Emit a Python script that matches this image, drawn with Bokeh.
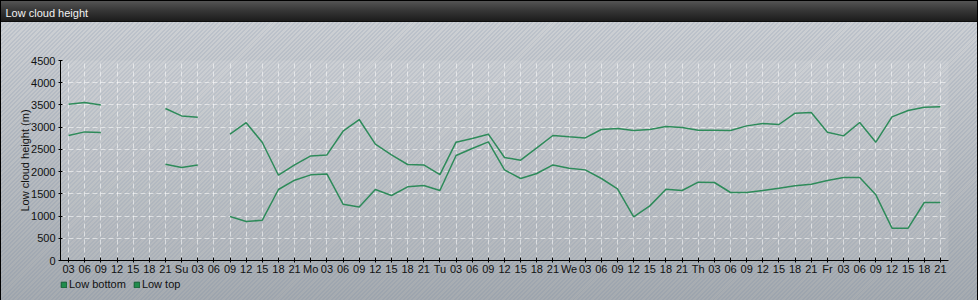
from bokeh.plotting import figure
from bokeh.layouts import column
from bokeh.models import Range1d, FixedTicker, Legend, LegendItem, Label
from bokeh.embed import file_html
from bokeh.resources import INLINE

nan = float("nan")

tick_labels = ["03", "06", "09", "12", "15", "18", "21",
               "Su", "03", "06", "09", "12", "15", "18", "21",
               "Mo", "03", "06", "09", "12", "15", "18", "21",
               "Tu", "03", "06", "09", "12", "15", "18", "21",
               "We", "03", "06", "09", "12", "15", "18", "21",
               "Th", "03", "06", "09", "12", "15", "18", "21",
               "Fr", "03", "06", "09", "12", "15", "18", "21"]

low_top = [3517, 3555, 3501, nan, nan, nan, 3420,
           3254, 3224, nan, 2845, 3100, 2655, 1919, 2151,
           2354, 2376, 2909, 3172, 2617, 2376, 2160, 2151,
           1934, 2662, 2745, 2842, 2317, 2257, 2534, 2812,
           2782, 2759, 2947, 2970, 2925, 2947, 3015, 2992,
           2932, 2932, 2925, 3029, 3082, 3060, 3314, 3330,
           2887, 2804, 3105, 2662, 3232, 3375, 3450, 3457]

low_bottom = [2812, 2894, 2880, nan, nan, nan, 2167,
              2092, 2151, nan, 990, 877, 907, 1597, 1807,
              1927, 1949, 1267, 1206, 1597, 1462, 1657, 1687,
              1575, 2362, 2520, 2669, 2039, 1845, 1957, 2151,
              2077, 2039, 1845, 1612, 981, 1229, 1604, 1575,
              1762, 1755, 1530, 1530, 1575, 1627, 1680, 1717,
              1800, 1867, 1867, 1477, 727, 727, 1305, 1305]

y_ticks = [0, 500, 1000, 1500, 2000, 2500, 3000, 3500, 4000, 4500]
series_names = ["Low bottom", "Low top"]
chart_title = "Low cloud height"

x = list(range(len(tick_labels)))
FONT = "Liberation Sans"
LINE_COLOR = "#2e8b5a"
W = 978

css_bg = ("linear-gradient(to bottom, #585858 0px, #353535 11px, #1c1c1c 21px, #000 22px, rgba(0,0,0,0) 22px), "
          "repeating-linear-gradient(135deg, rgba(255,255,255,0) 0px, rgba(255,255,255,0) 1.6px, "
          "rgba(110,130,160,0.17) 1.6px, rgba(110,130,160,0.17) 3px), "
          "linear-gradient(to bottom, #d0d4d8 0px, #cacdd1 40px, #a6abb0 300px)")


def bare_figure(h):
    f = figure(width=W, height=h, x_range=Range1d(0, W), y_range=Range1d(0, h),
               output_backend="svg", toolbar_location=None,
               x_axis_location=None, y_axis_location=None, min_border=0,
               frame_align=False,
               border_fill_alpha=0, background_fill_alpha=0,
               outline_line_color=None)
    f.grid.visible = False
    return f


# ---- title bar
t = bare_figure(22)
t.add_layout(Label(x=5, y=10, text=chart_title, text_color="#f2f2f2",
                   text_font=FONT, text_font_size="11px",
                   text_baseline="middle", text_align="left"))

# ---- main chart
p = figure(frame_width=888, frame_height=200,
           x_range=Range1d(-0.5, len(tick_labels) - 0.5),
           y_range=Range1d(0, 4500),
           output_backend="svg", toolbar_location=None,
           min_border_left=60, min_border_right=30,
           min_border_top=38, min_border_bottom=15,
           frame_align=False,
           border_fill_alpha=0, background_fill_color="white",
           background_fill_alpha=0.10, outline_line_color=None)

p.xaxis.ticker = FixedTicker(ticks=x)
p.xaxis.major_label_overrides = {i: lab for i, lab in enumerate(tick_labels)}
p.yaxis.ticker = FixedTicker(ticks=y_ticks)
for ax in (p.xaxis[0], p.yaxis[0]):
    ax.axis_line_color = "black"
    ax.major_tick_line_color = "black"
    ax.minor_tick_line_color = None
    ax.major_tick_in = 2
    ax.major_tick_out = 2
    ax.major_label_text_font = FONT
    ax.major_label_text_font_size = "11px"
    ax.major_label_text_color = "#111111"
    ax.major_label_standoff = 2
p.xaxis.major_tick_in = 3
p.xaxis.major_label_standoff = 0
p.yaxis.major_label_standoff = 3
p.yaxis.axis_label = "Low cloud height (m)"
p.yaxis.axis_label_text_font = FONT
p.yaxis.axis_label_text_font_size = "11px"
p.yaxis.axis_label_text_font_style = "normal"
p.yaxis.axis_label_text_color = "#111111"
p.yaxis.axis_label_standoff = -3

p.xgrid.ticker = FixedTicker(ticks=x)
p.ygrid.ticker = FixedTicker(ticks=y_ticks)
for g in (p.xgrid[0], p.ygrid[0]):
    g.grid_line_color = "white"
    g.grid_line_alpha = 0.55
    g.grid_line_dash = "5 3"
    g.grid_line_width = 1

p.line(x, low_bottom, line_color=LINE_COLOR, line_width=1.5)
p.line(x, low_top, line_color=LINE_COLOR, line_width=1.5)

# ---- legend strip (legend swatches come from hidden square renderers)
lg = bare_figure(25)
r_b = lg.quad(left=[0], right=[0], top=[0], bottom=[0],
              fill_color="#1f8c4c", line_color="#145e33", visible=False)
r_t = lg.quad(left=[0], right=[0], top=[0], bottom=[0],
              fill_color="#1f8c4c", line_color="#145e33", visible=False)
legend = Legend(items=[LegendItem(label=series_names[0], renderers=[r_b]),
                       LegendItem(label=series_names[1], renderers=[r_t])],
                location=(60, 12), orientation="horizontal",
                glyph_width=7, glyph_height=7, label_height=11,
                label_standoff=2, spacing=7, padding=0, margin=0,
                label_text_font=FONT, label_text_font_size="11px",
                label_text_color="#111111",
                border_line_alpha=0, background_fill_alpha=0)
lg.add_layout(legend)

layout = column(t, p, lg, spacing=0,
                styles={"background": css_bg, "box-shadow": "inset 0 0 0 1px #000"})

open("out.html", "w").write(file_html(layout, INLINE))
